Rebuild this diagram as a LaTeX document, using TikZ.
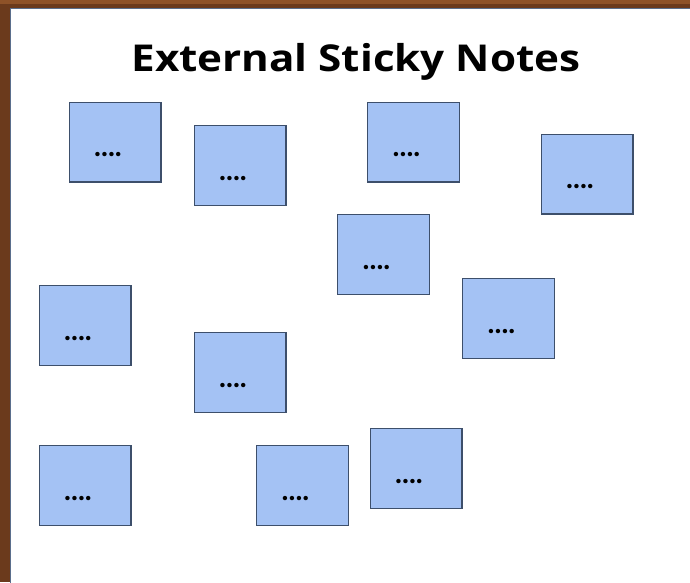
\documentclass[tikz,border=0pt]{standalone}
\usepackage{fontspec}
\setmainfont{Lato}
\newfontfamily\titlefont[FakeStretch=1.14]{Open Sans}
\usetikzlibrary{positioning}

\definecolor{wood}{HTML}{6B3A1C}
\definecolor{woodlight}{HTML}{8E5228}
\definecolor{panelline}{HTML}{5A6E8C}
\definecolor{notefill}{HTML}{A4C2F4}
\definecolor{noteline}{HTML}{3D4F6B}

\tikzset{
  note/.style={rectangle,draw=noteline,fill=notefill,line width=1.2pt,minimum width=91.8pt,minimum height=79.8pt,inner sep=0pt},
  dots/.style={font=\fontsize{29}{29}\bfseries,text=black,inner sep=0pt},
}

\begin{document}
\begin{tikzpicture}[x=1pt,y=-1pt]
\useasboundingbox (0,0) rectangle (690,582);
% wooden backdrop and the white board
\fill[wood] (0,0) rectangle (690,582);
\fill[woodlight] (0,0) rectangle (690,4);
\fill[white,draw=panelline,line width=1pt] (10.5,8.5) rectangle (692,584);

\node[font=\titlefont\fontsize{37}{37}\bfseries,text=black] (title) at (356,62) {External Sticky Notes};

% the notes
\foreach \x/\y/\n in {115/142/a, 240/165.5/b, 413.5/142/c, 587/174/d, 383.5/254.5/e, 85/325.5/f, 508.5/318.5/g, 240/372.5/h, 85/485.5/i, 302.5/485.5/j, 416/468.5/k}
  \node[note,label={[dots,xshift=-7pt,yshift=-13pt]center:....}] (\n) at (\x,\y) {};

\end{tikzpicture}
\end{document}
